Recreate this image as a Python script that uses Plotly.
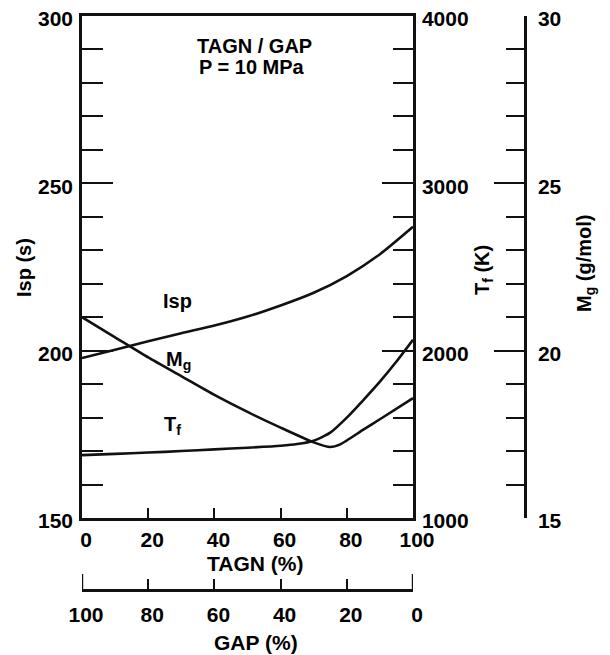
import plotly.graph_objects as go

# ---- data ----
tagn_isp = [0, 10, 20, 30, 40, 50, 60, 70, 80, 90, 100]
isp = [197.8, 200.3, 202.8, 205.2, 207.5, 210.2, 213.5, 217.3, 222.3, 228.8, 237.0]

tagn_mg = [0, 10, 20, 30, 40, 50, 60, 70, 75, 78, 85, 90, 100]
mg = [21.0, 20.4, 19.8, 19.24, 18.68, 18.17, 17.7, 17.26, 17.12, 17.2, 17.64, 17.95, 18.58]

tagn_tf = [0, 10, 20, 30, 40, 50, 60, 65, 70, 75, 80, 85, 90, 95, 100]
tf = [1376, 1383, 1391, 1400, 1410, 1420, 1432, 1442, 1462, 1510, 1600, 1705, 1815, 1935, 2065]

x_ticks = [0, 20, 40, 60, 80, 100]
gap_end_ticks = [0, 100]   # end ticks of the GAP scale (GAP values)

# ---- layout geometry ----
W, H = 610, 655
L, R, T, B = 82, 85, 16, 65
PW, PH = W - L - R, H - T - B
X_RIGHT = 413   # right edge of the main frame (px)
Y_BOTTOM = 518  # bottom of the main frame (px)
xdom = [0, (X_RIGHT - L) / PW]
ydom = [(H - B - Y_BOTTOM) / PH, 1]


def paper(xp, yp):
    return (xp - L) / PW, (H - B - yp) / PH


FONT = "Liberation Sans, Arial, sans-serif"
tickfont = dict(family=FONT, size=21, color="black", weight="bold")
LW = 2.5
BLACK = "#111111"

fig = go.Figure()
line = dict(color=BLACK, width=2.6, shape="spline", smoothing=0.6)
fig.add_trace(go.Scatter(x=tagn_isp, y=isp, mode="lines", line=line,
                         xaxis="x", yaxis="y", showlegend=False))
fig.add_trace(go.Scatter(x=tagn_tf, y=tf, mode="lines", line=line,
                         xaxis="x", yaxis="y2", showlegend=False))
fig.add_trace(go.Scatter(x=tagn_mg, y=mg, mode="lines", line=line,
                         xaxis="x", yaxis="y3", showlegend=False))
# empty trace so that the GAP scale axis gets drawn
fig.add_trace(go.Scatter(x=[], y=[], mode="lines", xaxis="x2", yaxis="y",
                         showlegend=False, hoverinfo="skip"))

common = dict(showgrid=False, zeroline=False, showline=True, linecolor=BLACK,
              linewidth=LW, tickcolor=BLACK, tickwidth=2.2, tickfont=tickfont,
              ticks="inside", automargin=False)

fig.update_layout(
    width=W, height=H,
    margin=dict(l=L, r=R, t=T, b=B, autoexpand=False),
    paper_bgcolor="white", plot_bgcolor="white",
    font=dict(family=FONT, color="black"),
    xaxis=dict(domain=xdom, range=[0, 100], tickmode="array", tickvals=x_ticks,
               ticklen=10, mirror=True, anchor="y", ticklabelstandoff=1,
               ticklabelshift=4, **common),
    xaxis2=dict(domain=xdom, range=[100, 0], tickmode="array", tickvals=x_ticks,
                ticklen=10, overlaying="x", anchor="free", position=0,
                ticklabelstandoff=5, ticklabelshift=-4, **common),
    yaxis=dict(domain=ydom, range=[150, 300], tick0=150, dtick=50, ticklen=31,
               minor=dict(dtick=10, ticklen=21, ticks="inside",
                          tickcolor=BLACK, tickwidth=2.2),
               anchor="x", side="left", ticklabelstandoff=2,
               ticklabelshift=3, **common),
    yaxis2=dict(domain=ydom, range=[1000, 4000], tick0=1000, dtick=1000,
                ticklen=31,
                minor=dict(dtick=200, ticklen=20, ticks="inside",
                           tickcolor=BLACK, tickwidth=2.2),
                overlaying="y", side="right", anchor="x",
                ticklabelstandoff=2, ticklabelshift=3, **common),
    yaxis3=dict(domain=ydom, range=[15, 30], tick0=15, dtick=5, ticklen=30,
                minor=dict(dtick=1, ticklen=18, ticks="inside",
                           tickcolor=BLACK, tickwidth=2.2),
                overlaying="y", side="right", anchor="free", position=1,
                ticklabelstandoff=7, ticklabelshift=3, **common),
)

# longer end ticks of the GAP scale
for g in gap_end_ticks:
    fig.add_shape(type="line", xref="x2", yref="paper", x0=g, x1=g,
                  y0=0, y1=16 / PH, line=dict(color=BLACK, width=2.4))

ann_font = dict(family=FONT, size=20, color="black", weight="bold")


def add_text(text, xp, yp, angle=0, size=20):
    xa, ya = paper(xp, yp)
    f = dict(ann_font)
    f["size"] = size
    fig.add_annotation(text=text, x=xa, y=ya, xref="paper", yref="paper",
                       xanchor="center", yanchor="middle", showarrow=False,
                       textangle=angle, font=f)


add_text("TAGN / GAP", 254, 46)
add_text("P = 10 MPa", 252, 67)
add_text("Isp", 177, 301)
add_text("M<sub>g</sub>", 178, 360)
add_text("T<sub>f</sub>", 172, 425)
add_text("Isp (s)", 24, 268, angle=-90)
add_text("T<sub>f</sub> (K)", 483, 270, angle=-90)
add_text("M<sub>g</sub> (g/mol)", 585, 264, angle=-90)
add_text("TAGN (%)", 255, 563, size=21)
add_text("GAP (%)", 256, 642, size=21)

fig.write_html("out.html")
